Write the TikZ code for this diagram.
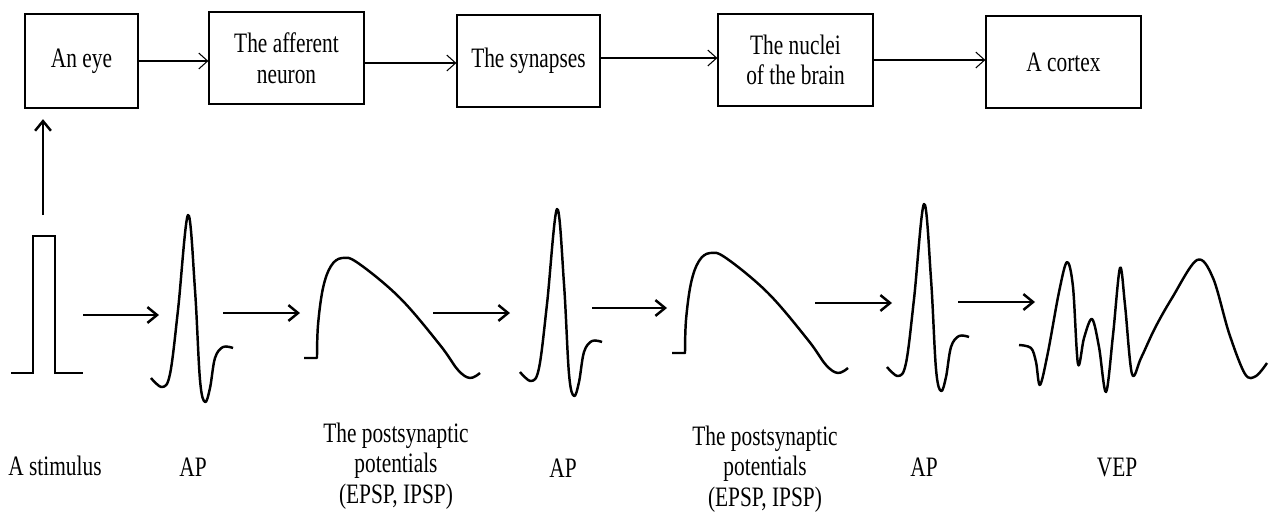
\documentclass[tikz,border=0pt]{standalone}
\usepackage{fontspec}
\setmainfont[FakeStretch=0.76]{Liberation Serif}
\usetikzlibrary{arrows.meta}

\tikzset{
  blk/.style={draw, line width=0.7pt, minimum height=1.84cm, inner sep=0pt, align=center},
  lbl/.style={inner sep=0pt, align=center},
  flow/.style={line width=0.6pt, -{Straight Barb[length=5pt,width=9pt]}},
  pass/.style={line width=1.4pt, -{Straight Barb[length=5.5pt,width=9pt]}},
  wave/.style={line width=1.4pt, line join=round}
}

\begin{document}
\begin{tikzpicture}[x=0.02cm,y=-0.02cm,font=\fontsize{16}{17.5}\selectfont]
\useasboundingbox (0,0) rectangle (1270,511);

% top row
\node[blk, minimum width=2.26cm, minimum height=1.88cm] (eye) at (81.5,61) {An eye};
\node[blk, minimum width=3.1cm] (aff) at (286.5,58) {The afferent\\neuron};
\node[blk, minimum width=2.86cm] (syn) at (528.5,61) {The synapses};
\node[blk, minimum width=3.1cm] (nuc) at (795.5,60) {The nuclei\\of the brain};
\node[blk, minimum width=3.1cm] (cor) at (1063.5,62) {A cortex};

\draw[flow] (eye.east) -- (eye.east -| aff.west);
\draw[flow] (aff.east) ++(0,5) coordinate (a2) -- (a2 -| syn.west);
\draw[flow] (syn.east) ++(0,-3) coordinate (a3) -- (a3 -| nuc.west);
\draw[flow] (nuc.east) -- (nuc.east -| cor.west);

% stimulus up to the eye
\coordinate (up) at (43,215);
\draw[pass, shorten >=6pt] (up) -- (up |- eye.south);
\draw[wave, line join=miter] (11,373) -- (33,373) -- (33,236) -- (55,236) -- (55,373) -- (83,373);

% action potentials
\foreach \dx/\dy in {0/0, 369/-6, 736/-11}
  \draw[wave, shift={(\dx,\dy)}] plot[smooth, tension=0.6] coordinates {(151,378) (162,387) (170,374) (178,310) (188,215) (195,290) (200,380) (205,402) (210,388) (215,358) (223,347) (233,348)};

% postsynaptic potentials
\foreach \dx/\dy in {0/0, 368/-5}
  \draw[wave, shift={(\dx,\dy)}] (304,358) -- (317,358) -- plot[smooth, tension=0.6] coordinates {(317,358) (318,325) (323,288) (331,266) (342,258) (358,263) (400,298) (440,345) (458,370) (470,378) (480,373)};

% VEP
\draw[wave] plot[smooth, tension=0.55] coordinates {(1019,345) (1031,348) (1036,362) (1040,385) (1048,352) (1059,292) (1067,262) (1073,287) (1078,364) (1084,338) (1092,319) (1099,347) (1106,392) (1113,335) (1120,268) (1125,305) (1132,374) (1141,358) (1155,328) (1172,298) (1197,260) (1213,278) (1229,333) (1245,374) (1256,376) (1267,363)};

% arrows between the waves
\coordinate (b1) at (83,315);
\coordinate (e1) at (159,315);
\coordinate (b2) at (223,313);
\coordinate (e2) at (300,313);
\coordinate (b3) at (433,313);
\coordinate (e3) at (510,313);
\coordinate (b4) at (592,308);
\coordinate (e4) at (667,308);
\coordinate (b5) at (815,303);
\coordinate (e5) at (892,303);
\coordinate (b6) at (958,302);
\coordinate (e6) at (1035,302);
\draw[pass] (b1) -- (e1);
\draw[pass] (b2) -- (e2);
\draw[pass] (b3) -- (e3);
\draw[pass] (b4) -- (e4);
\draw[pass] (b5) -- (e5);
\draw[pass] (b6) -- (e6);

% labels
\node[lbl] (lstim) at (55,466) {A stimulus};
\node[lbl] (lap1) at (193,467) {AP};
\node[lbl] (lpsp1) at (396,466) {The postsynaptic\\potentials\\(EPSP, IPSP)};
\node[lbl] (lap2) at (563,468) {AP};
\node[lbl] (lpsp2) at (765,469) {The postsynaptic\\potentials\\(EPSP, IPSP)};
\node[lbl] (lap3) at (924,467) {AP};
\node[lbl] (lvep) at (1117,467) {VEP};
\end{tikzpicture}
\end{document}
